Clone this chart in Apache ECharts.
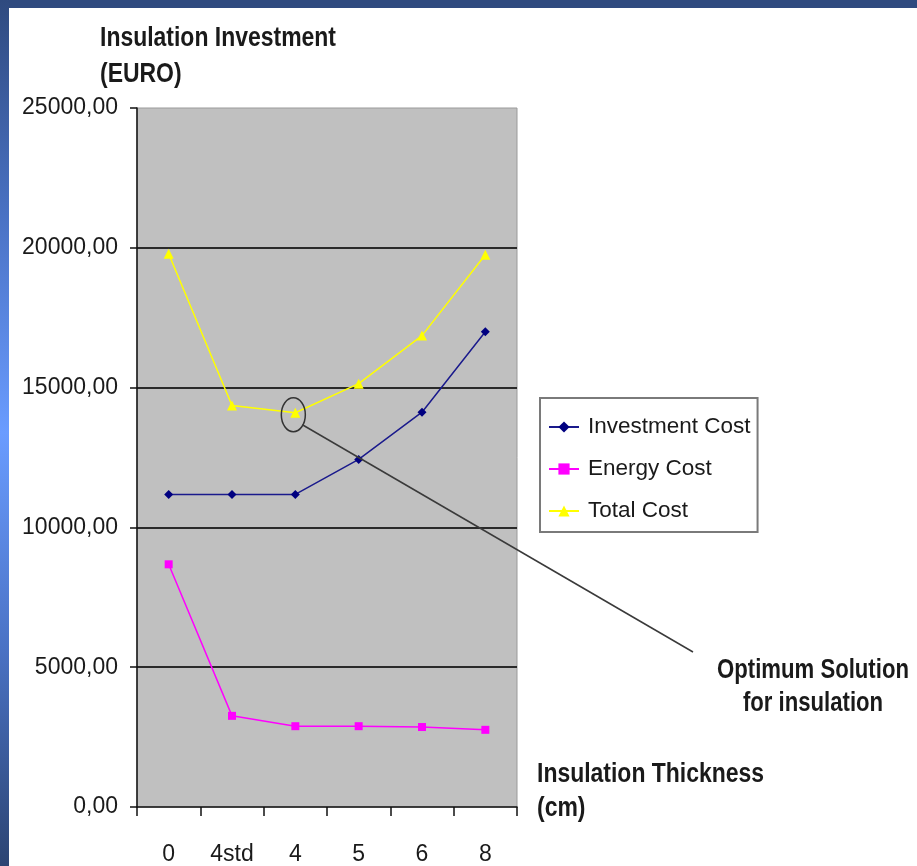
<!DOCTYPE html>
<html>
<head>
<meta charset="utf-8">
<script src="https://cdn.jsdelivr.net/npm/echarts@6/dist/echarts.min.js"></script>
<style>
  html, body { margin: 0; padding: 0; background: #fff; }
  #wrap { position: relative; width: 917px; height: 866px; overflow: hidden; }
  #chart { position: absolute; left: 0; top: 0; width: 917px; height: 866px; }
  #topband { position: absolute; left: 0; top: 0; width: 917px; height: 8px; background: #2f4a7f; z-index: 2; }
  #leftband { position: absolute; left: 0; top: 0; width: 9px; height: 866px; z-index: 2;
    background: linear-gradient(to bottom, #2f4a7f 0%, #4a72c4 25%, #6a9cff 50%, #4a72c4 75%, #2c4472 100%); }
</style>
</head>
<body>
<div id="wrap">
  <div id="chart"></div>
  <div id="topband"></div>
  <div id="leftband"></div>
</div>
<script>
const categories = ['0', '4std', '4', '5', '6', '8'];
const investmentCost = [11180, 11180, 11180, 12430, 14120, 17000];
const energyCost = [8680, 3260, 2890, 2890, 2860, 2760];
const totalCost = [19790, 14360, 14100, 15140, 16860, 19750];
const yTicks = { min: 0, max: 25000, interval: 5000 };
const optimumIndex = 2;

const FONT = "'Liberation Sans', Arial, sans-serif";
const TXT = '#1a1a1a';
const NARROW = 0.82;

const chart = echarts.init(document.getElementById('chart'), null, { renderer: 'canvas' });

const option = {
  backgroundColor: '#ffffff',
  animation: false,
  textStyle: { fontFamily: FONT },
  grid: {
    left: 137, top: 108, width: 380, height: 700,
    show: true, backgroundColor: '#c0c0c0', borderColor: '#9a9a9a', borderWidth: 1
  },
  legend: {
    orient: 'vertical',
    left: 540, top: 398,
    padding: [17, 7, 9, 8],
    itemGap: 18,
    itemWidth: 30, itemHeight: 14,
    backgroundColor: '#ffffff',
    borderColor: '#7a7a7a', borderWidth: 2,
    textStyle: { fontFamily: FONT, fontSize: 22.5, lineHeight: 24, color: TXT, padding: [0, 0, 0, 4] },
    data: ['Investment Cost', 'Energy Cost', 'Total Cost']
  },
  xAxis: {
    type: 'category',
    data: categories,
    boundaryGap: true,
    axisLine: { show: true, lineStyle: { color: '#111', width: 1.5 } },
    axisTick: { show: true, length: 9, lineStyle: { color: '#111', width: 1.5 } },
    axisLabel: { interval: 0, margin: 36, fontSize: 23, color: TXT, fontFamily: FONT },
    splitLine: { show: false }
  },
  yAxis: {
    type: 'value',
    min: yTicks.min, max: yTicks.max, interval: yTicks.interval,
    axisLine: { show: true, lineStyle: { color: '#111', width: 1.5 } },
    axisTick: { show: true, length: 7, lineStyle: { color: '#111', width: 1.5 } },
    axisLabel: {
      margin: 19, fontSize: 23, color: TXT, fontFamily: FONT,
      formatter: v => v.toFixed(2).replace('.', ',')
    },
    splitLine: { show: true, showMinLine: false, showMaxLine: false, lineStyle: { color: '#2a2a2a', width: 2 } }
  },
  series: [
    {
      name: 'Investment Cost', type: 'line', data: investmentCost,
      symbol: 'diamond', symbolSize: 9,
      itemStyle: { color: '#000080' }, lineStyle: { color: '#1a1a8c', width: 1.5 }
    },
    {
      name: 'Energy Cost', type: 'line', data: energyCost,
      symbol: 'rect', symbolSize: 8,
      itemStyle: { color: '#ff00ff' }, lineStyle: { color: '#ff00ff', width: 1.5 }
    },
    {
      name: 'Total Cost', type: 'line', data: totalCost,
      symbol: 'triangle', symbolSize: 10,
      itemStyle: { color: '#ffff00' }, lineStyle: { color: '#ffff00', width: 1.5 }
    }
  ]
};
chart.setOption(option);

const p = chart.convertToPixel({ xAxisIndex: 0, yAxisIndex: 0 }, [optimumIndex, totalCost[optimumIndex]]);
const cx = p[0] - 2, cy = p[1] + 2;
chart.setOption({
  graphic: [
    { type: 'ellipse', shape: { cx: cx, cy: cy, rx: 12, ry: 17 }, style: { fill: 'none', stroke: '#333', lineWidth: 1.5 }, z: 10 },
    { type: 'line', shape: { x1: cx + 9, y1: cy + 10, x2: 693, y2: 652 }, style: { stroke: '#3a3a3a', lineWidth: 1.5 }, z: 10 },
    { type: 'text', x: 100, y: 20, scaleX: NARROW, style: { text: 'Insulation Investment\n(EURO)', font: 'bold 28px ' + FONT, fill: TXT, lineHeight: 36 }, z: 10 },
    { type: 'text', x: 537, y: 757, scaleX: NARROW, style: { text: 'Insulation Thickness\n(cm)', font: 'bold 28px ' + FONT, fill: TXT, lineHeight: 34 }, z: 10 },
    { type: 'text', x: 813, y: 654, scaleX: NARROW, style: { text: 'Optimum Solution\nfor insulation', font: 'bold 27px ' + FONT, fill: TXT, lineHeight: 33, align: 'center' }, z: 10 }
  ]
});
</script>
</body>
</html>
